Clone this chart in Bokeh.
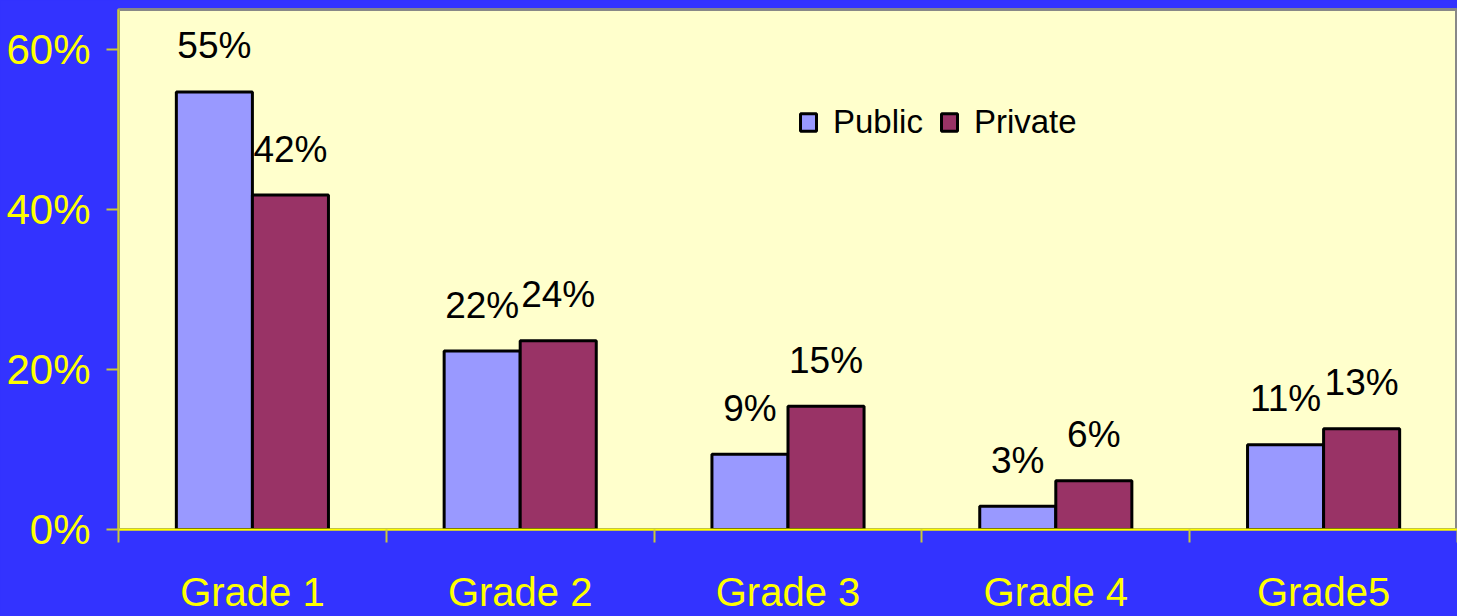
import numpy as np
from bokeh.plotting import figure
from bokeh.models import (Range1d, FixedTicker, NumeralTickFormatter, ColumnDataSource,
                          Legend, LegendItem)
from bokeh.embed import file_html
from bokeh.resources import INLINE
from bokeh.core.properties import value

# ---- data ----
categories = ["Grade 1", "Grade 2", "Grade 3", "Grade 4", "Grade5"]
series_names = ["Public", "Private"]
public = [0.547, 0.223, 0.094, 0.029, 0.106]
private = [0.418, 0.236, 0.154, 0.061, 0.126]
y_ticks = [0.0, 0.2, 0.4, 0.6]

# ---- style ----
BG = "#3333FF"
PLOT_BG = "#FFFFCC"
PUB = "#9999FF"
PRI = "#993366"
YEL = "#FFFF00"
AXIS = "#C8C83C"
FONT = "Liberation Sans, Arial, sans-serif"

idx = np.arange(len(categories))
centers = idx + 0.5
bar_w = 0.284
off = 0.142

def pct(v):
    return f"{int(v * 100 + 0.5)}%"

src = ColumnDataSource(dict(
    x_pub=centers - off, x_pri=centers + off,
    pub=public, pri=private,
    pub_lbl=[pct(v) for v in public], pri_lbl=[pct(v) for v in private],
))

p = figure(width=1457, height=616,
           x_range=Range1d(0, len(categories)), y_range=Range1d(0, 0.65),
           output_backend="svg", toolbar_location=None,
           min_border_left=118, min_border_right=0, min_border_top=9, min_border_bottom=86,
           background_fill_color=PLOT_BG, border_fill_color=BG,
           outline_line_color="#888888", outline_line_width=3)

r1 = p.vbar(x="x_pub", top="pub", width=bar_w, source=src,
            fill_color=PUB, line_color="black", line_width=3)
r2 = p.vbar(x="x_pri", top="pri", width=bar_w, source=src,
            fill_color=PRI, line_color="black", line_width=3)

for xcol, ycol, tcol in (("x_pub", "pub", "pub_lbl"), ("x_pri", "pri", "pri_lbl")):
    p.text(x=xcol, y=ycol, text=tcol, source=src, text_align="center",
           text_baseline="middle", y_offset=-46, text_color="black",
           text_font=value(FONT), text_font_size="37px")

legend = Legend(items=[LegendItem(label=series_names[0], renderers=[r1]),
                       LegendItem(label=series_names[1], renderers=[r2])],
                orientation="horizontal", location=(680, 388),
                border_line_color=None, background_fill_alpha=0,
                label_text_font=FONT, label_text_font_size="33px", label_text_color="black",
                glyph_width=20, glyph_height=22, spacing=16, padding=0, margin=0,
                label_standoff=15)
p.add_layout(legend)

p.grid.visible = False

# x axis: labels at category centres, ticks at category boundaries
xa = p.xaxis[0]
xa.ticker = FixedTicker(ticks=list(centers), minor_ticks=list(idx) + [len(categories)])
xa.major_label_overrides = {float(c): cat for c, cat in zip(centers, categories)}
xa.major_tick_out = 0
xa.major_tick_in = 0
xa.minor_tick_out = 13
xa.minor_tick_in = 0
xa.minor_tick_line_color = AXIS
xa.minor_tick_line_width = 2
xa.axis_line_color = YEL
xa.axis_line_width = 2
xa.major_label_text_color = YEL
xa.major_label_text_font = FONT
xa.major_label_text_font_size = "40px"
xa.major_label_standoff = 27

# y axis
ya = p.yaxis[0]
ya.ticker = FixedTicker(ticks=y_ticks)
ya.formatter = NumeralTickFormatter(format="0%")
ya.major_tick_out = 12
ya.major_tick_in = 0
ya.minor_tick_out = 0
ya.minor_tick_in = 0
ya.major_tick_line_color = AXIS
ya.major_tick_line_width = 2
ya.axis_line_color = AXIS
ya.axis_line_width = 2
ya.major_label_text_color = YEL
ya.major_label_text_font = FONT
ya.major_label_text_font_size = "42px"
ya.major_label_standoff = 16

html = file_html(p, INLINE, title="Grades")
html = html.replace("</head>", "<style>html,body{background:#3333FF;}</style></head>", 1)
open("out.html", "w").write(html)
